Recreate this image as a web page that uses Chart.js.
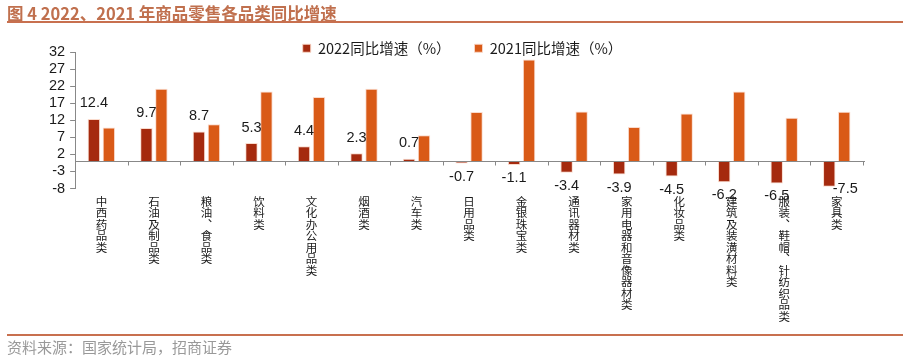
<!DOCTYPE html>
<html>
<head>
<meta charset="utf-8">
<script src="https://cdn.jsdelivr.net/npm/chart.js@4.4.0/dist/chart.umd.min.js"></script>
<style>
  body { margin: 0; width: 910px; height: 363px; position: relative; background: #fff; overflow: hidden; font-family: "Noto Sans CJK SC", sans-serif; }
  #title { position: absolute; left: 7px; top: 3px; font-size: 16.5px; font-weight: bold; color: #C0704E; line-height: 20px; }
  #tline { position: absolute; left: 7px; right: 7px; top: 21px; height: 2px; background: #C8704F; }
  #fline { position: absolute; left: 7px; right: 7px; top: 334px; height: 2px; background: #C8704F; }
  #src { position: absolute; left: 7px; top: 338px; font-size: 15px; color: #999; line-height: 18px; }
  #chart { position: absolute; left: 0; top: 0; }
</style>
</head>
<body>
<canvas id="chart" width="910" height="363"></canvas>
<div id="title">图 4 2022、2021 年商品零售各品类同比增速</div>
<div id="tline"></div>
<div id="fline"></div>
<div id="src">资料来源：国家统计局，招商证券</div>
<script>
// 品类
const categories = ['中西药品类', '石油及制品类', '粮油、食品类', '饮料类', '文化办公用品类', '烟酒类', '汽车类',
  '日用品类', '金银珠宝类', '通讯器材类', '家用电器和音像器材类', '化妆品类', '建筑及装潢材料类',
  '服装、鞋帽、针纺织品类', '家具类'];
const growth2022 = [12.4, 9.7, 8.7, 5.3, 4.4, 2.3, 0.7, -0.7, -1.1, -3.4, -3.9, -4.5, -6.2, -6.5, -7.5];
const growth2021 = [9.9, 21.2, 10.8, 20.4, 18.8, 21.2, 7.6, 14.4, 29.8, 14.6, 10.0, 14.0, 20.4, 12.7, 14.5];
const yTicks = [-8, -3, 2, 7, 12, 17, 22, 27, 32];

const numFont = '14.5px "Liberation Sans", Arial, sans-serif';

// 竖排标签：逐字换行，顿号用竖排字形
const verticalLabel = s => s.split('').map(ch => (ch === '、' ? '︑' : ch));

// 图例高度压缩，让图例和坐标轴顶部重叠；整体右移一点
const legendHeight = {
  id: 'legendHeight',
  beforeInit(chart) {
    const fit = chart.legend.fit;
    chart.legend.fit = function () {
      fit.bind(chart.legend)();
      this.height = 35;
    };
  },
  afterLayout(chart) {
    const lg = chart.legend;
    lg.left += 9;
    lg.right += 9;
    // 画图例时不要被裁掉
    lg.height += 20;
    lg.bottom += 20;
  }
};

// 零轴线 + 类别分隔刻度
const zeroAxis = {
  id: 'zeroAxis',
  afterDatasetsDraw(chart) {
    const { ctx } = chart;
    const x = chart.scales.x, y = chart.scales.y;
    const y0 = Math.round(y.getPixelForValue(0)) + 0.5;
    const step = (x.right - x.left) / categories.length;
    ctx.save();
    ctx.strokeStyle = '#888';
    ctx.lineWidth = 1;
    ctx.beginPath();
    ctx.moveTo(x.left, y0);
    ctx.lineTo(x.right + 2, y0);
    for (let i = 1; i <= categories.length; i++) {
      const px = Math.round(x.left + i * step) + 0.5;
      ctx.moveTo(px, y0);
      ctx.lineTo(px, y0 + 4);
    }
    ctx.stroke();
    ctx.restore();
  }
};

// 2022 数据标签
const valueLabels = {
  id: 'valueLabels',
  afterDatasetsDraw(chart) {
    const { ctx } = chart;
    const meta = chart.getDatasetMeta(0);
    ctx.save();
    ctx.font = numFont;
    ctx.fillStyle = '#1a1a1a';
    ctx.textAlign = 'center';
    ctx.textBaseline = 'middle';
    meta.data.forEach((bar, i) => {
      const v = growth2022[i];
      let tx = bar.x, ty;
      if (v >= 0) ty = bar.y - 15.5;
      else ty = bar.y + 13;
      if (i === growth2022.length - 1) { tx = bar.x + 16; ty = bar.y + 2; }
      ctx.fillText(v.toFixed(1), tx, ty);
    });
    ctx.restore();
  }
};

new Chart(document.getElementById('chart'), {
  type: 'bar',
  data: {
    labels: categories.map(verticalLabel),
    datasets: [
      {
        label: '2022同比增速（%）',
        data: growth2022,
        backgroundColor: '#A52A0E',
        borderColor: 'rgba(250,215,200,0.9)',
        borderWidth: 1
      },
      {
        label: '2021同比增速（%）',
        data: growth2021,
        backgroundColor: '#D95A17',
        borderColor: 'rgba(250,215,200,0.9)',
        borderWidth: 1
      }
    ]
  },
  options: {
    responsive: false,
    animation: false,
    categoryPercentage: 0.57,
    barPercentage: 0.83,
    layout: { padding: { top: 17, left: 44, right: 47, bottom: 34 } },
    plugins: {
      tooltip: { enabled: false },
      legend: {
        position: 'top',
        labels: {
          boxWidth: 8,
          boxHeight: 8,
          padding: 24,
          color: '#1a1a1a',
          font: { family: '"Noto Sans CJK SC", sans-serif', size: 14.5 }
        }
      }
    },
    scales: {
      x: {
        border: { display: false },
        grid: { display: false, drawTicks: false },
        ticks: {
          maxRotation: 0,
          minRotation: 0,
          autoSkip: false,
          padding: 7,
          color: '#1a1a1a',
          font: { family: '"Noto Sans CJK SC", sans-serif', size: 11.5, lineHeight: 1.0 }
        }
      },
      y: {
        min: -8,
        max: 32,
        afterBuildTicks: axis => { axis.ticks = yTicks.map(v => ({ value: v })); },
        border: { display: true, color: '#888', width: 1 },
        grid: { drawOnChartArea: false, drawTicks: true, tickLength: 5, color: '#888' },
        ticks: {
          autoSkip: false,
          padding: 5,
          color: '#1a1a1a',
          font: { family: '"Liberation Sans", Arial, sans-serif', size: 14.5 }
        }
      }
    }
  },
  plugins: [legendHeight, zeroAxis, valueLabels]
});
</script>
</body>
</html>
